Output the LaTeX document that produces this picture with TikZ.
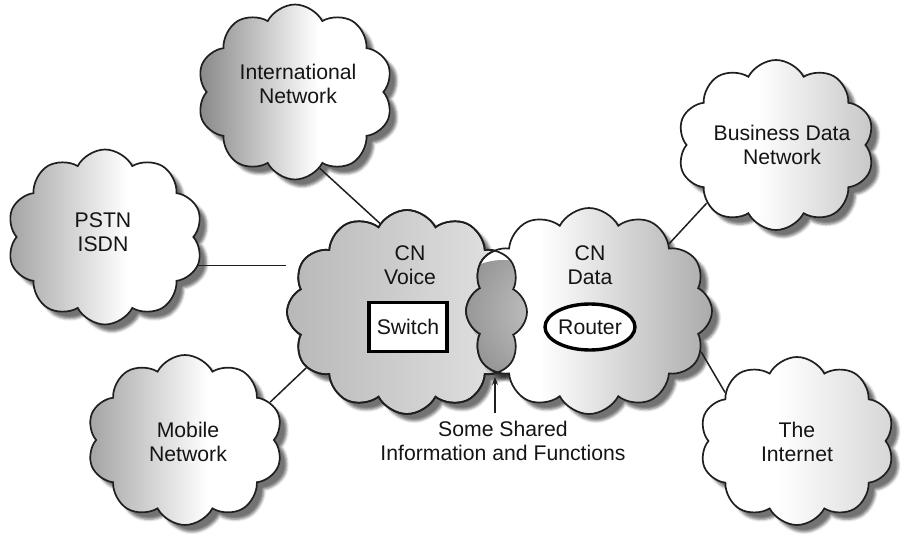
\documentclass[tikz,border=0pt]{standalone}
\usepackage{fontspec}
\setmainfont{Liberation Sans}
\usetikzlibrary{shapes.symbols, shapes.geometric, shadows.blur, arrows.meta}

% horizontal gradients (the path spans 25bp..75bp of each shading)
\pgfdeclarehorizontalshading{intlshade}{100bp}{color(0bp)=(black!47); color(25bp)=(black!47); color(56bp)=(white); color(100bp)=(white)}
\pgfdeclarehorizontalshading{leftshade}{100bp}{color(0bp)=(black!36); color(25bp)=(black!36); color(56bp)=(white); color(100bp)=(white)}
\pgfdeclarehorizontalshading{bizshade}{100bp}{color(0bp)=(white); color(45bp)=(white); color(75bp)=(black!22); color(100bp)=(black!22)}
\pgfdeclarehorizontalshading{netshade}{100bp}{color(0bp)=(white); color(45bp)=(white); color(75bp)=(black!16); color(100bp)=(black!16)}
\pgfdeclarehorizontalshading{datashade}{100bp}{color(0bp)=(white); color(40bp)=(white); color(75bp)=(black!33); color(100bp)=(black!33)}

\tikzset{
  netfont/.style={font=\fontsize{21.2}{24}\selectfont, text=black!92},
  nettext/.style={netfont, align=center, inner sep=0pt},
  netcloud/.style={cloud, cloud puffs=10, cloud puff arc=125, cloud ignores aspect,
    draw=black!88, line width=1.7pt, inner sep=0pt},
  cloudshadow/.style={blur shadow={shadow xshift=7pt, shadow yshift=-7pt,
    shadow blur radius=2.5pt, shadow opacity=55}},
  voiceshape/.style={netcloud, cloud puffs=12, minimum width=240pt, minimum height=204pt},
  datashape/.style={netcloud, cloud puffs=12, minimum width=246pt, minimum height=206pt},
  link/.style={line width=1.5pt, draw=black!88},
}

\begin{document}
\begin{tikzpicture}[x=1pt, y=-1pt]
\useasboundingbox (0,0) rectangle (901,534);

% outer networks
\node[netcloud, cloudshadow, shade, shading=intlshade, minimum width=196pt, minimum height=175pt] (intl) at (295,92) {};
\node[netcloud, cloudshadow, shade, shading=leftshade, minimum width=196pt, minimum height=175pt] (pstn) at (105,237) {};
\node[netcloud, cloudshadow, shade, shading=leftshade, minimum width=196pt, minimum height=170pt] (mobile) at (185,440) {};
\node[netcloud, cloudshadow, shade, shading=bizshade, minimum width=197pt, minimum height=170pt] (biz) at (776,145) {};
\node[netcloud, cloudshadow, shade, shading=netshade, minimum width=195pt, minimum height=168pt] (inet) at (797,441) {};

% core networks
\node[voiceshape, cloudshadow, left color=black!28, right color=black!10] (voice) at (407,312) {};
\node[datashape, cloudshadow, shade, shading=datashade] (data) at (589,311) {};

% common part of both core networks: data shape clipped to the voice shape
\coordinate (sharedglow) at (503,322);
\node[voiceshape, path picture={
    \node[datashape, path picture={
        \shade[inner color=black!16, outer color=black!46] (sharedglow) circle (62pt);
      }] (sharedinner) at (data.center) {};
  }] (sharedzone) at (voice.center) {};

% connectors
\draw[link] (intl.-72) -- (voice.107);
\draw[link] (pstn.-17) -- (pstn.-17 -| voice.west);
\draw[link] (mobile.24) -- (voice.209);
\draw[link] (biz.220) -- (data.40);
\draw[link] (inet.146) -- (data.-20);

% texts
\node[nettext] (intltext) at (298,84) {International\\Network};
\node[nettext] (pstntext) at (103,232) {PSTN\\ISDN};
\node[nettext] (mobiletext) at (188,442) {Mobile\\Network};
\node[nettext] (biztext) at (782,145) {Business Data\\Network};
\node[nettext] (inettext) at (797,442) {The\\Internet};
\node[nettext] (voicetext) at (410,265) {CN\\Voice};
\node[nettext] (datatext) at (590,265) {CN\\Data};

\node[netfont, draw=black, fill=white, line width=3.6pt, minimum width=78pt, minimum height=49pt, inner sep=0pt] (switch) at (408,327) {Switch};
\node[netfont, ellipse, draw=black, fill=white, line width=3.4pt, minimum width=85pt, minimum height=46pt, inner sep=0pt] (router) at (590,327) {Router};

\node[nettext] (sharedtext) at (503,441) {Some Shared\\Information and Functions};
\coordinate (sharedtip) at (495,377);
\draw[line width=1.4pt, draw=black!88, -{Stealth[length=8pt, width=6pt]}]
  ([yshift=8pt]sharedtext.north -| sharedtip) -- (sharedtip);
\end{tikzpicture}
\end{document}
